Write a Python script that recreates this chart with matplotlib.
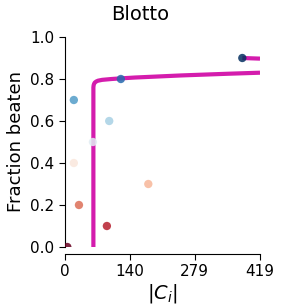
import matplotlib
matplotlib.use("Agg")
import matplotlib.pyplot as plt
import numpy as np

# agents: size of C_i vs fraction of opponents beaten
sizes = [5, 19, 19, 30, 60, 90, 95, 120, 179, 381]
beaten = [0.0, 0.7, 0.4, 0.2, 0.5, 0.1, 0.6, 0.8, 0.3, 0.9]

# frontier curve
front_x = [61, 61, 61.5, 62.5, 64, 67, 71, 80, 100, 120, 150, 200, 250, 300, 350, 419]
front_y = [0.0, 0.76, 0.77, 0.777, 0.783, 0.788, 0.792, 0.796, 0.8, 0.803,
           0.807, 0.812, 0.817, 0.821, 0.825, 0.83]
top_x = [381, 419]
top_y = [0.9, 0.897]

xticks = [0, 140, 279, 419]
yticks = [0.0, 0.2, 0.4, 0.6, 0.8, 1.0]

fig = plt.figure(figsize=(2.81, 3.07), dpi=100)
ax = fig.add_axes([65 / 281, 1 - 247 / 307, 195 / 281, 210 / 307])

order = np.argsort(beaten)
cmap = plt.get_cmap("RdBu")
colors = [None] * len(beaten)
for rank, i in enumerate(order):
    colors[i] = cmap(rank / (len(beaten) - 1))

ax.plot(front_x, front_y, color="#d41cad", lw=3, solid_capstyle="butt", zorder=2)
ax.plot(top_x, top_y, color="#d41cad", lw=3, solid_capstyle="butt", zorder=2)
ax.scatter(sizes, beaten, c=colors, s=36, alpha=0.85, edgecolors="none", zorder=3)

ax.set_xlim(0, 419)
ax.set_ylim(0, 1)
ax.set_xticks(xticks)
ax.set_xticklabels([str(t) for t in xticks])
ax.set_yticks(yticks)
ax.set_yticklabels([f"{t:.1f}" for t in yticks])
ax.tick_params(labelsize=11, length=4, width=0.8)

for s in ["top", "right"]:
    ax.spines[s].set_visible(False)
ax.spines["bottom"].set_position(("outward", 5))
for s in ["left", "bottom"]:
    ax.spines[s].set_linewidth(0.8)

ax.set_xlabel(r"$|C_i|$", fontsize=14, labelpad=2)
ax.set_ylabel("Fraction beaten", fontsize=13)
fig.suptitle("Blotto", fontsize=14, y=0.985)

fig.savefig("out.png", dpi=100)
